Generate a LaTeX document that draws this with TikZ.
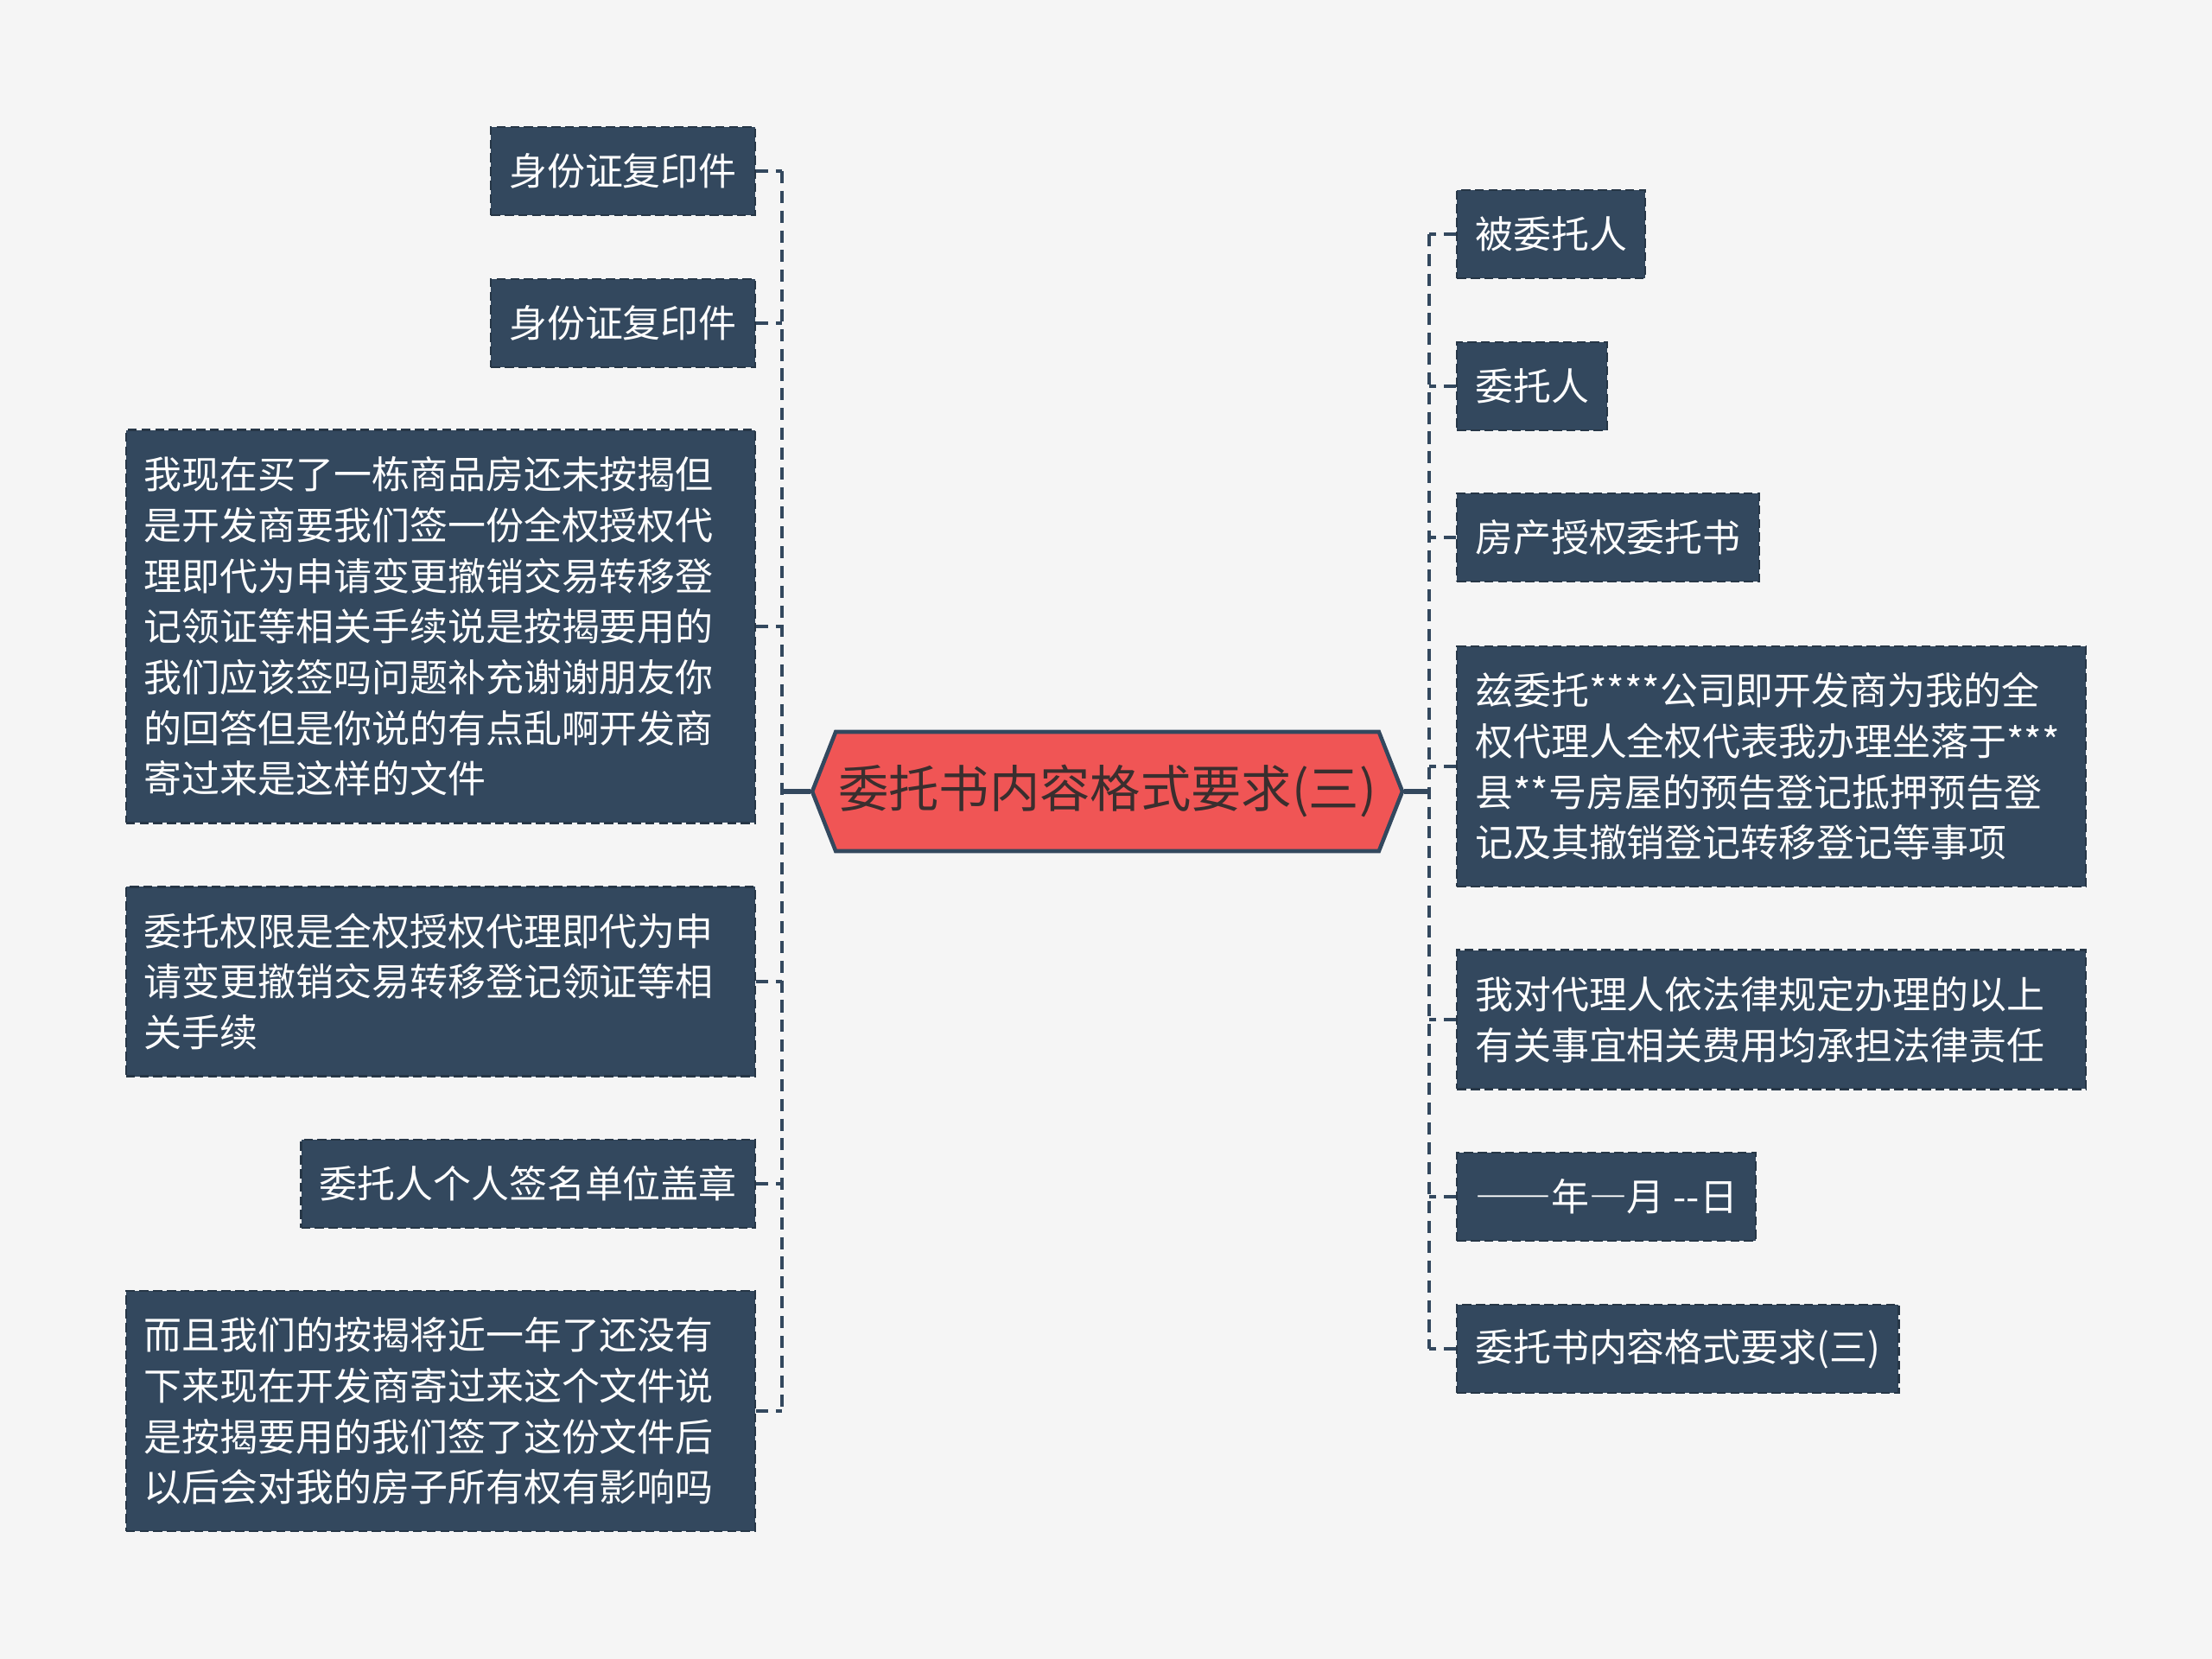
\documentclass[tikz,border=0pt]{standalone}
\usepackage{fontspec}
\newfontfamily\cjk{Noto Sans CJK SC}
\newfontfamily\cjkfw[RawFeature=+fwid]{Noto Sans CJK SC}
\usetikzlibrary{shapes.symbols}
\definecolor{paper}{RGB}{245,245,245}
\definecolor{slate}{RGB}{51,72,94}
\definecolor{coral}{RGB}{240,85,85}
\definecolor{ink}{RGB}{58,46,46}

\begin{document}
\begin{tikzpicture}[
  leaf/.style={fill=slate, draw=slate!75!black, dash pattern=on 3pt off 1.5pt, line width=0.7pt,
    preaction={draw=paper, solid, line width=0.7pt}, text=white, inner xsep=0.21cm, inner ysep=0.08cm,
    minimum height=#1*0.588cm+0.43cm, font=\cjk\fontsize{12.5}{16.7}\selectfont, align=left},
  wide/.style={text width=6.86cm},
  narrow/.style={},
  root/.style={signal, signal to=west and east, signal pointer angle=137, fill=coral, draw=slate,
    line width=1.3pt, minimum width=6.83cm, minimum height=1.38cm, inner sep=0pt, text=ink,
    font=\cjk\fontsize{16.6}{20}\selectfont},
  link/.style={draw=slate, line width=1.1pt, dash pattern=on 4pt off 2.5pt},
  stem/.style={draw=slate, line width=1.5pt}]
\fill[paper] (0,0) rectangle (25.6,-19.2);
\useasboundingbox (0,0) rectangle (25.6,-19.2);

\node[root] (root) at (12.815,-9.16) {委托书内容格式要求(三)};

% left side
\foreach \i/\y/\n/\s/\t in {1/-1.98/1/narrow/{身份证复印件}, 2/-3.74/1/narrow/{身份证复印件},
  3/-7.25/7/wide/{我现在买了一栋商品房还未按揭但\\是开发商要我们签一份全权授权代\\理即代为申请变更撤销交易转移登\\记领证等相关手续说是按揭要用的\\我们应该签吗问题补充谢谢朋友你\\的回答但是你说的有点乱啊开发商\\寄过来是这样的文件},
  4/-11.36/3/wide/{委托权限是全权授权代理即代为申\\请变更撤销交易转移登记领证等相\\关手续},
  5/-13.70/1/narrow/{委托人个人签名单位盖章},
  6/-16.33/4/wide/{而且我们的按揭将近一年了还没有\\下来现在开发商寄过来这个文件说\\是按揭要用的我们签了这份文件后\\以后会对我的房子所有权有影响吗}}
  { \node[leaf=\n, \s, anchor=east] (l\i) at (8.75,\y) {\t}; }

% right side
\foreach \i/\y/\n/\s/\t in {1/-2.71/1/narrow/{被委托人}, 2/-4.47/1/narrow/{委托人}, 3/-6.22/1/narrow/{房产授权委托书},
  4/-8.87/4/wide/{兹委托****公司即开发商为我的全\\权代理人全权代表我办理坐落于***\\县**号房屋的预告登记抵押预告登\\记及其撤销登记转移登记等事项},
  5/-11.80/2/wide/{我对代理人依法律规定办理的以上\\有关事宜相关费用均承担法律责任},
  6/-13.85/1/narrow/{{\cjkfw ——}年{\cjkfw —}月 --日}, 7/-15.61/1/narrow/{委托书内容格式要求(三)}}
  { \node[leaf=\n, \s, anchor=west] (r\i) at (16.85,\y) {\t}; }

\coordinate (lj) at (9.05,-9.16);
\coordinate (rj) at (16.54,-9.16);
\draw[stem] (root.west) -- (lj);
\draw[stem] (root.east) -- (rj);
\draw[link] (lj |- l1.east) -- (lj |- l6.east);
\draw[link] (rj |- r1.west) -- (rj |- r7.west);
\foreach \i in {1,...,6} { \draw[link] (l\i.east) -- (lj |- l\i.east); }
\foreach \i in {1,...,7} { \draw[link] (r\i.west) -- (rj |- r\i.west); }
\end{tikzpicture}
\end{document}
